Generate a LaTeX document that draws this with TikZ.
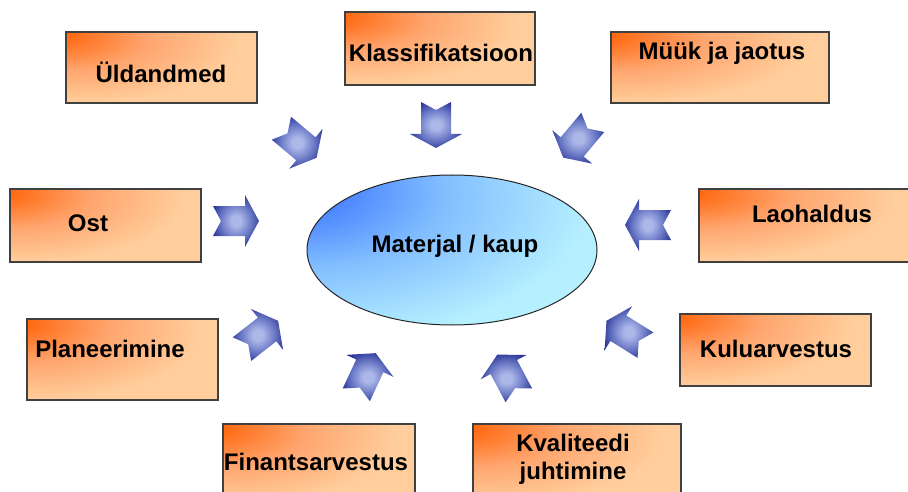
\documentclass[tikz,border=0pt]{standalone}
\usepackage{fontspec}
\setmainfont{Liberation Sans}
\usepackage{xcolor}
\usepackage{tikz}
\usetikzlibrary{shapes.geometric}

\definecolor{orgdark}{RGB}{255,104,16}
\definecolor{orgmid}{RGB}{255,165,110}
\definecolor{peach}{RGB}{255,206,156}
\definecolor{elldark}{RGB}{58,116,255}
\definecolor{ellmid}{RGB}{130,190,255}
\definecolor{elllight}{RGB}{182,240,255}
\definecolor{arrdark}{RGB}{40,52,150}
\definecolor{arrmid}{RGB}{110,124,200}
\definecolor{arrlight}{RGB}{172,184,232}

\pgfdeclareradialshading{boxshade}{\pgfpoint{-30bp}{24bp}}{color(0bp)=(orgdark); color(4bp)=(orgdark); color(22bp)=(orgmid); color(42bp)=(peach); color(150bp)=(peach)}
\pgfdeclareradialshading{ellshade}{\pgfpoint{-30bp}{22bp}}{color(0bp)=(elldark); color(5bp)=(elldark); color(24bp)=(ellmid); color(45bp)=(elllight); color(150bp)=(elllight)}
\pgfdeclareradialshading{arrshade}{\pgfpointorigin}{color(0bp)=(arrlight); color(5bp)=(arrlight); color(16bp)=(arrmid); color(28bp)=(arrdark); color(80bp)=(arrdark)}

% block arrow: x, y, angle
\newcommand{\flowarrow}[3]{%
    \begin{scope}[shift={(#1,#2)}, rotate=#3]
        \shade[shading=arrshade]
        (-23,15) -- (9,15) -- (9,26) -- (23,0) -- (9,-26) -- (9,-15)
        -- (-23,-15) -- (-15,0) -- cycle;
    \end{scope}}

\begin{document}
\begin{tikzpicture}[x=1pt, y=1pt,
    box/.style={rectangle, draw=black!75, line width=1.2pt, shade, shading=boxshade, inner sep=0pt},
    lbl/.style={font=\fontsize{24}{28}\selectfont\bfseries, inner sep=0pt, align=center}]

    \useasboundingbox (0,0) rectangle (908,491);
    \clip (0,0) rectangle (908,491);

    % Centre
    \node[ellipse, draw=black!85, line width=1pt, shade, shading=ellshade,
        minimum width=290pt, minimum height=150pt] (mat) at (452,241) {};
    \node[lbl] (mattxt) at (455,245) {Materjal / kaup};

    % Boxes
    \node[box, minimum width=191pt, minimum height=71pt] (ueld) at (161.5,423.5) {};
    \node[box, minimum width=190pt, minimum height=73pt] (klass) at (440,442.5) {};
    \node[box, minimum width=218pt, minimum height=71pt] (muuk) at (720,423.5) {};
    \node[box, minimum width=216pt, minimum height=73pt] (lao) at (807,265.5) {};
    \node[box, minimum width=191pt, minimum height=73pt] (ost) at (105.5,265.5) {};
    \node[box, minimum width=191pt, minimum height=81pt] (plan) at (122.5,131.5) {};
    \node[box, minimum width=191pt, minimum height=72pt] (kulu) at (775.5,141) {};
    \node[box, minimum width=192pt, minimum height=80pt] (fin) at (319,27) {};
    \node[box, minimum width=208pt, minimum height=80pt] (kval) at (577,27) {};

    % Labels
    \node[lbl] (ueldtxt) at (161,419) {Üldandmed};
    \node[lbl] (klasstxt) at (441,438) {Klassifikatsioon};
    \node[lbl] (muuktxt) at (722,438) {Müük ja jaotus};
    \node[lbl] (laotxt) at (812,277) {Laohaldus};
    \node[lbl] (osttxt) at (88,268) {Ost};
    \node[lbl] (plantxt) at (110,142) {Planeerimine};
    \node[lbl] (kulutxt) at (776,142) {Kuluarvestus};
    \node[lbl] (fintxt) at (316,29) {Finantsarvestus};
    \node[lbl] (kvaltxt) at (573,32) {Kvaliteedi\\juhtimine};

    % Arrows towards the centre
    \flowarrow{299}{348}{-40}
    \flowarrow{436}{366}{-90}
    \flowarrow{578}{351}{-130}
    \flowarrow{648}{266}{180}
    \flowarrow{236}{270}{0}
    \flowarrow{260}{156}{38}
    \flowarrow{366}{117}{65}
    \flowarrow{508}{116}{118}
    \flowarrow{626}{158}{148}

\end{tikzpicture}
\end{document}
